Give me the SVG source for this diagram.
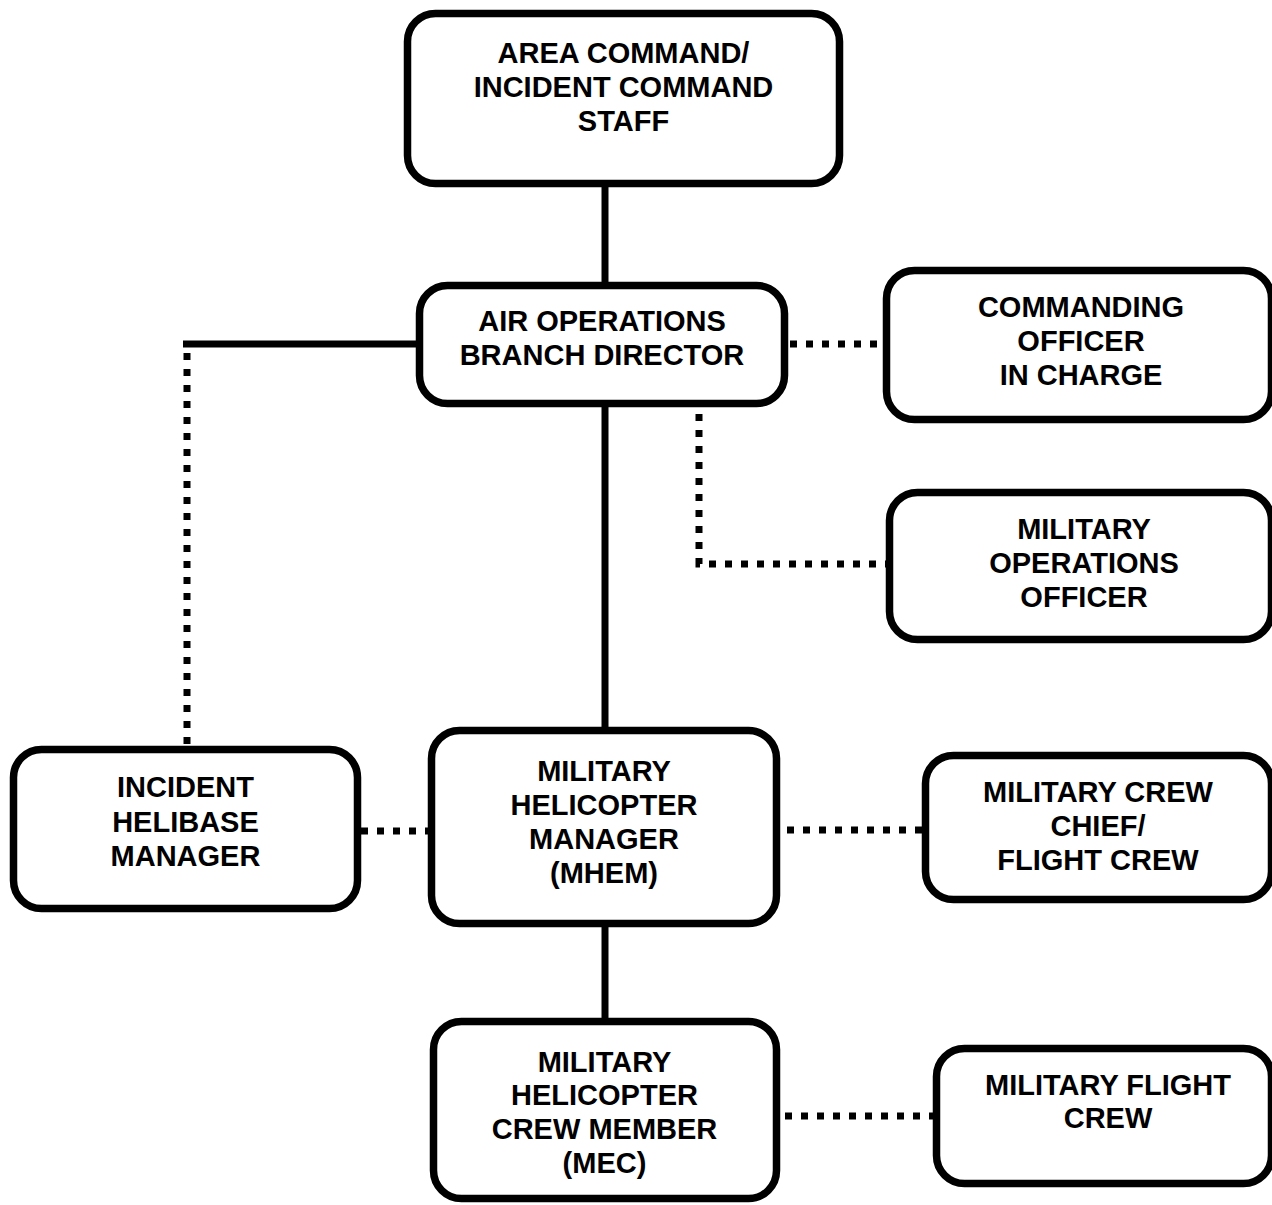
<svg xmlns="http://www.w3.org/2000/svg" width="1272" height="1205" viewBox="0 0 1272 1205">
<style>
.box{fill:#fff;stroke:#000;stroke-width:7.5}
.t{font-family:"Liberation Sans",Arial,sans-serif;font-weight:bold;font-size:29px;fill:#000;text-anchor:middle}
.solid{fill:none;stroke:#000;stroke-width:7}
.dot{fill:none;stroke:#000;stroke-width:7;stroke-dasharray:7 9}
</style>
<rect width="1272" height="1205" fill="#fff"/>
<g id="connectors">
<path class="solid" d="M605,187 V282"/>
<path class="solid" d="M605,407 V727"/>
<path class="solid" d="M605,927 V1018"/>
<path class="solid" d="M416,344 H183"/>
<path class="dot" d="M187,353 V746"/>
<path class="dot" d="M790,344 H883"/>
<path class="dot" d="M699,414 V564 H886"/>
<path class="dot" d="M361,831 H428"/>
<path class="dot" d="M787,830 H922"/>
<path class="dot" d="M785,1116 H933"/>
</g>
<g id="top">
<rect class="box" x="407.5" y="13.5" width="432" height="170" rx="28"/>
<text class="t" x="623.5" y="63">AREA COMMAND/</text>
<text class="t" x="623.5" y="97">INCIDENT COMMAND</text>
<text class="t" x="623.5" y="131">STAFF</text>
</g>
<g id="airops">
<rect class="box" x="419.5" y="285.5" width="365" height="118" rx="28"/>
<text class="t" x="602" y="331">AIR OPERATIONS</text>
<text class="t" x="602" y="365">BRANCH DIRECTOR</text>
</g>
<g id="commanding">
<rect class="box" x="886.5" y="270.5" width="385" height="149" rx="28"/>
<text class="t" x="1081" y="317">COMMANDING</text>
<text class="t" x="1081" y="351">OFFICER</text>
<text class="t" x="1081" y="385">IN CHARGE</text>
</g>
<g id="milops">
<rect class="box" x="889.5" y="492.5" width="382" height="147" rx="28"/>
<text class="t" x="1084" y="539">MILITARY</text>
<text class="t" x="1084" y="573">OPERATIONS</text>
<text class="t" x="1084" y="607">OFFICER</text>
</g>
<g id="helibase">
<rect class="box" x="13.5" y="749.5" width="344" height="159" rx="28"/>
<text class="t" x="185.5" y="797">INCIDENT</text>
<text class="t" x="185.5" y="832">HELIBASE</text>
<text class="t" x="185.5" y="866">MANAGER</text>
</g>
<g id="mhem">
<rect class="box" x="431.5" y="730.5" width="345" height="193" rx="28"/>
<text class="t" x="604" y="781">MILITARY</text>
<text class="t" x="604" y="815">HELICOPTER</text>
<text class="t" x="604" y="849">MANAGER</text>
<text class="t" x="604" y="883">(MHEM)</text>
</g>
<g id="crewchief">
<rect class="box" x="925.5" y="755.5" width="346" height="144" rx="28"/>
<text class="t" x="1098" y="802">MILITARY CREW</text>
<text class="t" x="1098" y="836">CHIEF/</text>
<text class="t" x="1098" y="870">FLIGHT CREW</text>
</g>
<g id="mec">
<rect class="box" x="433.5" y="1021.5" width="343" height="177" rx="28"/>
<text class="t" x="604.5" y="1072">MILITARY</text>
<text class="t" x="604.5" y="1105">HELICOPTER</text>
<text class="t" x="604.5" y="1139">CREW MEMBER</text>
<text class="t" x="604.5" y="1173">(MEC)</text>
</g>
<g id="flightcrew">
<rect class="box" x="936.5" y="1048.5" width="335" height="135" rx="28"/>
<text class="t" x="1108" y="1095">MILITARY FLIGHT</text>
<text class="t" x="1108" y="1128">CREW</text>
</g>
</svg>
